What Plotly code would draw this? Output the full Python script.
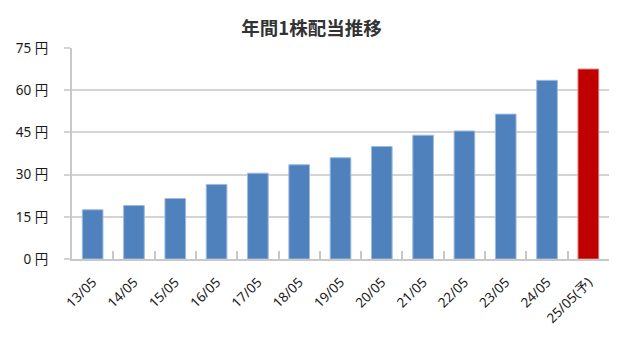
import plotly.graph_objects as go

categories = ["13/05", "14/05", "15/05", "16/05", "17/05", "18/05", "19/05",
              "20/05", "21/05", "22/05", "23/05", "24/05", "25/05(予)"]
dividends = [17.5, 19, 21.5, 26.5, 30.5, 33.5, 36, 40, 44, 45.5, 51.5, 63.5, 67.5]
bar_colors = ["#4f81bd"] * 12 + ["#c00000"]
line_colors = ["#9dbbe0"] * 12 + ["#e07070"]
y_tickvals = [0, 15, 30, 45, 60, 75]
y_ticktext = ["0 円", "15 円", "30 円", "45 円", "60 円", "75 円"]
title_text = "年間1株配当推移"

font_family = "Noto Sans, Noto Sans CJK JP"

fig = go.Figure(go.Bar(
    x=categories, y=dividends,
    marker=dict(color=bar_colors, line=dict(color=line_colors, width=1)),
    width=0.5,
))

fig.update_layout(
    width=623, height=343,
    margin=dict(l=72, r=14, t=48, b=84),
    paper_bgcolor="white", plot_bgcolor="white",
    showlegend=False,
    font=dict(family=font_family, size=13.5, color="#1a1a1a"),
    title=dict(text=title_text, x=0.5, xanchor="center", y=0.918, yanchor="middle",
               font=dict(family="Noto Sans CJK JP", size=18.5, color="#333333", weight="bold")),
    xaxis=dict(
        type="category", tickangle=-45,
        showline=True, linecolor="#c8c8c8", linewidth=2,
        ticks="inside", tickson="boundaries", ticklen=8, tickcolor="#c8c8c8", tickwidth=1.5,
        showgrid=False, tickfont=dict(size=13.5), ticklabelstandoff=8,
    ),
    yaxis=dict(
        range=[0, 75], tickvals=y_tickvals, ticktext=y_ticktext,
        showline=True, linecolor="#c8c8c8", linewidth=2,
        ticks="outside", ticklen=6, tickcolor="#d4d4d4", tickwidth=2,
        showgrid=True, gridcolor="#d4d4d4", gridwidth=2,
        zeroline=False, tickfont=dict(size=13.5), ticklabelstandoff=13,
    ),
)

fig.write_html("out.html")
